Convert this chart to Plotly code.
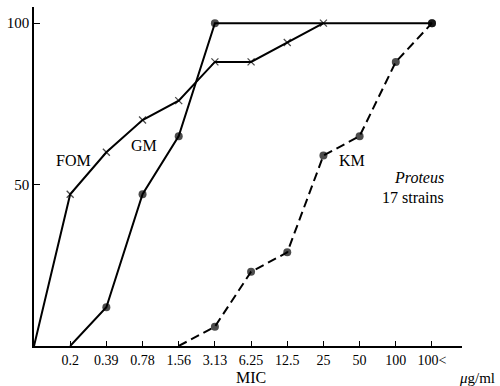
import plotly.graph_objects as go

# Categories (index 0 = origin)
tick_labels = ["0.2", "0.39", "0.78", "1.56", "3.13", "6.25", "12.5", "25", "50", "100", "100<"]
tick_pos = list(range(1, 12))

# FOM (x markers, solid)
fom_x = [0, 1, 2, 3, 4, 5, 6, 7, 8]
fom_y = [0, 47, 60, 70, 76, 88, 88, 94, 100]

# GM (dots, solid)
gm_x = [1, 2, 3, 4, 5, 11]
gm_y = [0, 12, 47, 65, 100, 100]

# KM (dots, dashed)
km_x = [4, 5, 6, 7, 8, 9, 10, 11]
km_y = [0, 6, 23, 29, 59, 65, 88, 100]

FONT = "Liberation Serif"

fig = go.Figure()
fig.add_trace(go.Scatter(
    x=fom_x, y=fom_y, mode="lines+markers",
    line=dict(color="black", width=2),
    marker=dict(symbol="x-thin", size=[0] + [7] * (len(fom_x) - 1),
                color="black", line=dict(color="black", width=1.3)),
    showlegend=False))
fig.add_trace(go.Scatter(
    x=gm_x, y=gm_y, mode="lines+markers",
    line=dict(color="black", width=2),
    marker=dict(symbol="circle", size=[0] + [8] * (len(gm_x) - 1), color="black",
                line=dict(width=0)),
    showlegend=False))
fig.add_trace(go.Scatter(
    x=km_x, y=km_y, mode="lines+markers",
    line=dict(color="black", width=2, dash="9px,5px"),
    marker=dict(symbol="circle", size=[0] + [8] * (len(km_x) - 1), color="black",
                line=dict(width=0)),
    showlegend=False))

ann = dict(showarrow=False, font=dict(family=FONT, size=16, color="black"))
fig.add_annotation(x=1.1, y=57.5, text="FOM", xanchor="center", yanchor="middle", **ann)
fig.add_annotation(x=3.05, y=62, text="GM", xanchor="center", yanchor="middle", **ann)
fig.add_annotation(x=8.78, y=57.5, text="KM", xanchor="center", yanchor="middle", **ann)
fig.add_annotation(x=11.39, y=52.3, text="<i>Proteus</i>", xanchor="right", yanchor="middle", **ann)
fig.add_annotation(x=11.39, y=46.1, text="17 strains", xanchor="right", yanchor="middle", **ann)
fig.add_annotation(x=6.0, y=0, yshift=-31, text="MIC", xanchor="center", yanchor="middle", **ann)
fig.add_annotation(x=1.081, xref="paper", y=0, yshift=-32, text="<i>μ</i>g/ml",
                   xanchor="right", yanchor="middle",
                   showarrow=False, font=dict(family=FONT, size=15, color="black"))

fig.update_xaxes(
    range=[0, 11.83], tickvals=tick_pos, ticktext=tick_labels,
    showline=True, linecolor="black", linewidth=1.5, ticks="inside", ticklen=5,
    tickcolor="black", tickwidth=1, showgrid=False, zeroline=False,
    tickfont=dict(family=FONT, size=14, color="black"))
fig.update_yaxes(
    range=[0, 105], tickvals=[50, 100], ticktext=["50", "100"],
    showline=True, linecolor="black", linewidth=1.5, ticks="inside", ticklen=6,
    tickcolor="black", tickwidth=1, showgrid=False, zeroline=False,
    tickfont=dict(family=FONT, size=15, color="black"))

fig.update_layout(
    width=500, height=386,
    margin=dict(l=32, r=38, t=7, b=40),
    plot_bgcolor="white", paper_bgcolor="white")

fig.write_html("out.html")
